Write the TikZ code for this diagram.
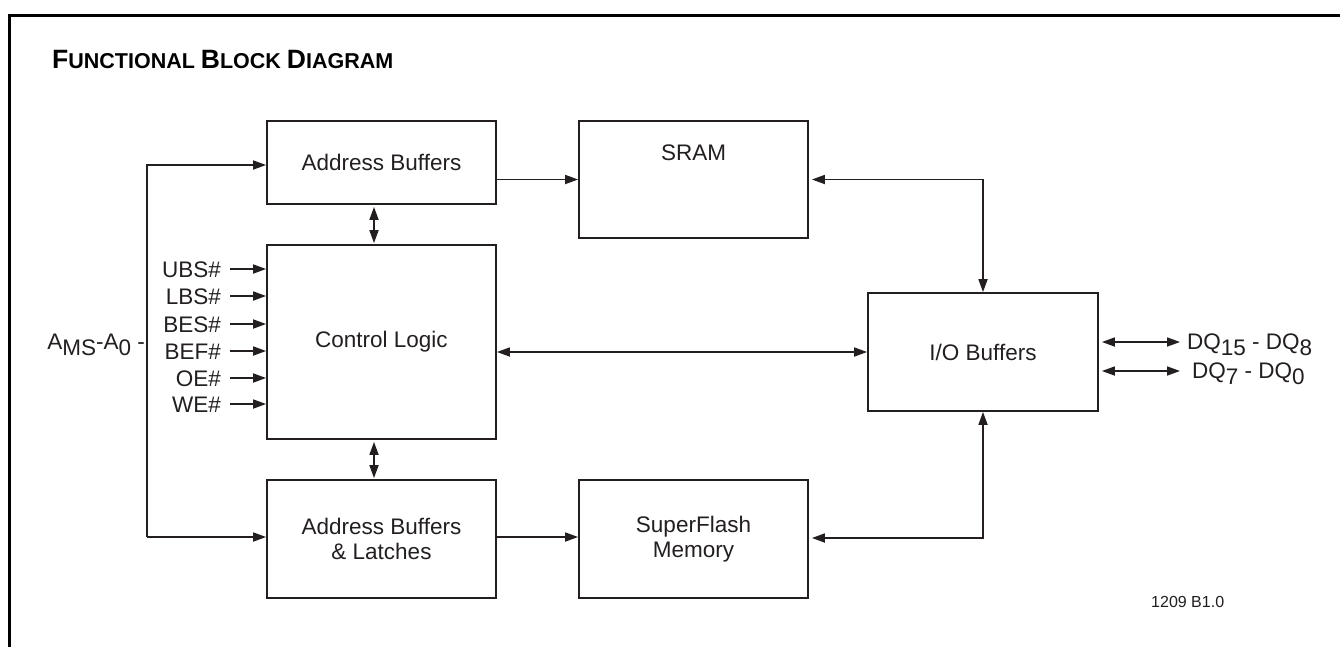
\documentclass[tikz,border=0pt]{standalone}
\usepackage{fontspec}
\setmainfont{Liberation Sans}
\usetikzlibrary{arrows.meta}
\definecolor{ink}{HTML}{231F20}
\newcommand{\sbx}[1]{\raisebox{-6pt}{#1}}
\begin{document}
\begin{tikzpicture}[x=1pt,y=-1pt,
  box/.style={draw=ink, line width=1.8pt, rectangle, inner sep=0pt, text=ink,
    font=\fontsize{22.5}{27}\selectfont, align=center},
  conn/.style={draw=ink, line width=1.7pt},
  arr/.style={conn, -{Triangle[length=13pt,width=9pt]}},
  biarr/.style={conn, {Triangle[length=13pt,width=9pt]}-{Triangle[length=13pt,width=9pt]}},
  lbl/.style={text=ink, font=\fontsize{22.5}{27}\selectfont, inner sep=0pt,
    text height=16pt, text depth=0pt},
]
\useasboundingbox (0,0) rectangle (1340,646);
\fill[white] (0,0) rectangle (1340,646);
% frame
\draw[line width=3pt, black] (9.5,650) -- (9.5,15) -- (1345,15);

% title
\node[anchor=base west, text=black, inner sep=0pt] (title) at (52,68)
  {\bfseries\fontsize{26.5}{30}\selectfont F\fontsize{21.5}{25}\selectfont UNCTIONAL
   \fontsize{26.5}{30}\selectfont B\fontsize{21.5}{25}\selectfont LOCK
   \fontsize{26.5}{30}\selectfont D\fontsize{21.5}{25}\selectfont IAGRAM};

% blocks
\node[box, minimum width=229pt, minimum height=83pt] (ab) at (381.5,162.5) {Address Buffers};
\node[box, minimum width=229pt, minimum height=194pt] (cl) at (381.5,342) {Control Logic};
\node[box, minimum width=229pt, minimum height=118pt] (abl) at (381.5,539) {Address Buffers\\[-2pt]\& Latches};
\node[box, minimum width=229pt, minimum height=117pt,
  label={[lbl, yshift=27.5pt]center:SRAM}] (sram) at (693.5,179.5) {};
\node[box, minimum width=229pt, minimum height=118pt] (sf) at (693.5,539) {SuperFlash\\[-2pt]Memory};
\node[box, minimum width=230pt, minimum height=118pt] (io) at (983,352) {I/O Buffers};

% address bus
\node[lbl, anchor=east] (ams) at (145,341.5) {A\sbx{MS}-A\sbx{0} -};
\coordinate (bt) at (147,165);
\coordinate (bb) at (147,537);
\draw[arr] (bb) -- (bt) -- (bt -| ab.west);
\draw[arr] (bb) -- (bb -| abl.west);

% control signals
\foreach \n/\t/\y in {ubs/UBS\#/269, lbs/LBS\#/296, bes/BES\#/324, bef/BEF\#/351, oe/OE\#/378, we/WE\#/404}{
  \node[lbl, anchor=east] (\n) at (221,\y) {\t};
  \draw[arr] ([xshift=9pt]\n.east) -- (\n.east -| cl.west);
}

% internal connections
\coordinate (vx) at (374,0);
\draw[biarr, shorten <=2pt, shorten >=1pt] (ab.south -| vx) -- (cl.north -| vx);
\draw[biarr, shorten <=2pt, shorten >=1pt] (cl.south -| vx) -- (abl.north -| vx);
\draw[arr] (ab.east |- sram) -- (sram.west);
\draw[arr] (abl.east |- 0,537) -- (sf.west |- 0,537);
\draw[biarr] (cl.east |- io) -- (io.west);
\draw[biarr, shorten <=3pt] (sram.east) -| (io.north);
\draw[biarr, shorten <=3pt] (sf.east |- 0,538) -| (io.south);

% data bus
\coordinate (dqa) at (1180,342);
\coordinate (dqb) at (1180,371);
\draw[biarr, shorten <=3pt] (io.east |- dqa) -- (dqa);
\draw[biarr, shorten <=3pt] (io.east |- dqb) -- (dqb);
\node[lbl, anchor=west] (dq1) at (1187,341) {DQ\sbx{15} - DQ\sbx{8}};
\node[lbl, anchor=west] (dq2) at (1192,370) {DQ\sbx{7} - DQ\sbx{0}};

% figure number
\node[anchor=west, text=ink, font=\fontsize{16}{19}\selectfont, inner sep=0pt] (fig) at (1151,602) {1209 B1.0};
\end{tikzpicture}
\end{document}
